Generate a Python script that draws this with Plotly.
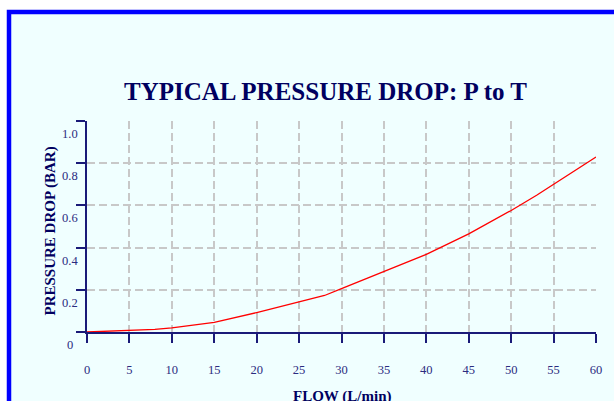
import plotly.graph_objects as go

# Data
flow = [0, 5, 8, 10, 15, 20, 25, 28, 30, 35, 40, 45, 50, 53, 55, 60]
pressure = [0.0, 0.006, 0.012, 0.02, 0.046, 0.092, 0.143, 0.173, 0.206, 0.286,
            0.368, 0.465, 0.576, 0.648, 0.699, 0.829]
x_ticks = [0, 5, 10, 15, 20, 25, 30, 35, 40, 45, 50, 55, 60]
y_ticks = [0, 0.2, 0.4, 0.6, 0.8, 1.0]
y_tick_labels = ["0", "0.2", "0.4", "0.6", "0.8", "1.0"]

SERIF = "Liberation Serif, Times New Roman, serif"
NAVY = "#1a1a78"
TICKC = "#2b2b80"
TITLEC = "#000060"

W, H = 614, 401
L, R, T, B = 87, 18, 121, 69
PW, PH = W - L - R, H - T - B


def px2paper_x(px):
    return (px - L) / PW


def px2paper_y(py):
    return (H - B - py) / PH


fig = go.Figure()
fig.add_trace(go.Scatter(x=flow, y=pressure, mode="lines",
                         line=dict(color="#ff0000", width=1.3),
                         showlegend=False, hoverinfo="skip"))

# background panel with blue border
fig.add_shape(type="rect", xref="paper", yref="paper",
              x0=px2paper_x(9), x1=px2paper_x(640),
              y0=px2paper_y(430), y1=px2paper_y(12),
              line=dict(color="#0000ff", width=4.5),
              fillcolor="#f0ffff", layer="below")

axis_common = dict(
    showline=True, linecolor=NAVY, linewidth=1.5,
    ticks="outside", ticklen=9, tickwidth=1.5, tickcolor=NAVY,
    showgrid=True, gridcolor="#c8c8c8", gridwidth=1.5, griddash="8px,4px",
    zeroline=False,
    tickfont=dict(family=SERIF, size=12.5, color=TICKC),
)

fig.update_xaxes(range=[0, 60], tickvals=x_ticks, ticklabelstandoff=16,
                 **axis_common)
fig.update_yaxes(range=[0, 1.0], tickvals=y_ticks, showticklabels=False,
                 **axis_common)

# y tick labels (offset below their ticks, centered as in the reference)
for v, t in zip(y_ticks, y_tick_labels):
    fig.add_annotation(x=px2paper_x(70), xref="paper", y=v, yref="y",
                       text=t, showarrow=False, xanchor="center",
                       yanchor="middle", yshift=-13,
                       font=dict(family=SERIF, size=12.5, color=TICKC))

# axis titles
fig.add_annotation(x=px2paper_x(50), xref="paper", y=px2paper_y(231.5), yref="paper",
                   text="PRESSURE DROP (BAR)", textangle=-90, showarrow=False,
                   xanchor="center", yanchor="middle",
                   font=dict(family=SERIF, size=15, color=TITLEC, weight="bold"))
fig.add_annotation(x=px2paper_x(341.5), xref="paper", y=px2paper_y(396), yref="paper",
                   text="FLOW (L/min)", showarrow=False,
                   xanchor="center", yanchor="middle",
                   font=dict(family=SERIF, size=15, color=TITLEC, weight="bold"))

fig.update_layout(
    width=W, height=H,
    margin=dict(l=L, r=R, t=T, b=B, pad=0),
    paper_bgcolor="#ffffff", plot_bgcolor="rgba(0,0,0,0)",
    title=dict(text="TYPICAL PRESSURE DROP: P to T",
               x=325.5 / W, xanchor="center", y=1 - 91 / H, yanchor="middle",
               font=dict(family=SERIF, size=25, color=TITLEC, weight="bold")),
)

fig.write_html("out.html", config={"displayModeBar": False},
               post_script="document.body.style.margin='0';document.body.style.padding='0';")
